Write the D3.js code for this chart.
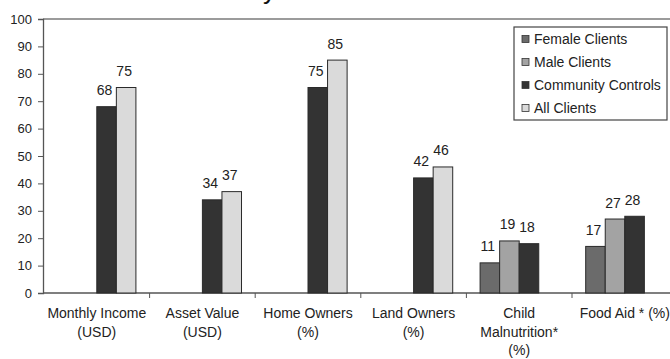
<!DOCTYPE html>
<html>
<head>
<meta charset="utf-8">
<script src="https://cdn.jsdelivr.net/npm/d3@7"></script>
<style>
  body { margin: 0; background: #fff; }
  svg { display: block; font-family: "Liberation Sans", Arial, sans-serif; }
</style>
</head>
<body>
<div id="chart"></div>
<script>
// data
const categories = [
    ["Monthly Income", "(USD)"],
    ["Asset Value", "(USD)"],
    ["Home Owners", "(%)"],
    ["Land Owners", "(%)"],
    ["Child", "Malnutrition*", "(%)"],
    ["Food Aid * (%)"]
];
const seriesNames = ["Female Clients", "Male Clients", "Community Controls", "All Clients"];
const femaleClients = [null, null, null, null, 11, 17];
const maleClients = [null, null, null, null, 19, 27];
const communityControls = [68, 34, 75, 42, 18, 28];
const allClients = [75, 37, 85, 46, null, null];
const yTicks = [0, 10, 20, 30, 40, 50, 60, 70, 80, 90, 100];

const seriesColors = ["#6b6b6b", "#a3a3a3", "#333333", "#dadada"];
const seriesValues = [femaleClients, maleClients, communityControls, allClients];

const width = 670;
const height = 359;
const margin = { left: 43, top: 19, bottom: 66 };

const svg = d3.select("#chart").append("svg")
    .attr("width", width)
    .attr("height", height);

// title, cut off by the top edge (only the descender shows)
svg.append("text")
    .attr("x", 276)
    .attr("y", -0.6)
    .attr("text-anchor", "end")
    .style("font-size", "26px")
    .attr("fill", "#111")
    .text("Outcome Summary");

const x0 = d3.scaleBand()
    .domain(d3.range(categories.length))
    .range([margin.left + 1, margin.left + 1 + 6 * 105.6])
    .padding(0);

const x1 = d3.scaleBand()
    .domain(d3.range(seriesNames.length))
    .range([0, x0.bandwidth()])
    .paddingInner(0)
    .paddingOuter(0.7);

const y = d3.scaleLinear()
    .domain([0, 100])
    .range([height - margin.bottom, margin.top]);

// plot frame top line
svg.append("line")
    .attr("x1", margin.left).attr("x2", width)
    .attr("y1", y(100)).attr("y2", y(100))
    .attr("stroke", "#7a7a7a")
    .attr("stroke-width", 1.5);

// y axis
const yAxis = svg.append("g")
    .attr("transform", `translate(${margin.left},0)`)
    .call(d3.axisLeft(y).tickValues(yTicks).tickSize(5).tickPadding(6));
yAxis.select(".domain").attr("stroke", "#555").attr("stroke-width", 1.3);
yAxis.selectAll(".tick line").attr("stroke", "#555");
yAxis.selectAll("text")
    .style("font-size", "13px")
    .attr("fill", "#222")
    .attr("font-family", "Liberation Sans, Arial, sans-serif");

// x axis: line with ticks at category boundaries
const xAxis = svg.append("g");
xAxis.append("line")
    .attr("x1", margin.left).attr("x2", width)
    .attr("y1", y(0)).attr("y2", y(0))
    .attr("stroke", "#555")
    .attr("stroke-width", 1.3);
xAxis.selectAll("line.tick")
    .data(d3.range(1, categories.length))
    .enter()
    .append("line")
    .attr("class", "tick")
    .attr("x1", d => x0(d)).attr("x2", d => x0(d))
    .attr("y1", y(0)).attr("y2", y(0) + 5)
    .attr("stroke", "#555");

xAxis.selectAll("text.cat")
    .data(categories)
    .enter()
    .append("text")
    .attr("class", "cat")
    .attr("text-anchor", "middle")
    .style("font-size", "14px")
    .attr("fill", "#222")
    .each(function(lines, i) {
        const t = d3.select(this);
        lines.forEach((line, j) => {
            t.append("tspan")
                .attr("x", x0(i) + x0.bandwidth() / 2)
                .attr("y", y(0) + 25 + j * 18.5)
                .text(line);
        });
    });

// bars
const barData = [];
seriesValues.forEach((values, s) => {
    values.forEach((v, i) => {
        if (v !== null) barData.push({ s, i, v });
    });
});

svg.append("g")
    .selectAll("rect")
    .data(barData)
    .enter()
    .append("rect")
    .attr("x", d => x0(d.i) + x1(d.s))
    .attr("y", d => y(d.v))
    .attr("width", x1.bandwidth())
    .attr("height", d => y(0) - y(d.v))
    .attr("fill", d => seriesColors[d.s])
    .attr("stroke", "#2a2a2a")
    .attr("stroke-width", 1);

svg.append("g")
    .selectAll("text")
    .data(barData)
    .enter()
    .append("text")
    .attr("x", d => x0(d.i) + x1(d.s) + x1.bandwidth() / 2 - 2)
    .attr("y", d => y(d.v) - 11.5)
    .attr("text-anchor", "middle")
    .style("font-size", "14px")
    .attr("fill", "#222")
    .text(d => d.v);

// legend
const legend = svg.append("g").attr("transform", "translate(514,27)");
legend.append("rect")
    .attr("width", 153)
    .attr("height", 93)
    .attr("fill", "#fff")
    .attr("stroke", "#444")
    .attr("stroke-width", 1.2);

const items = legend.selectAll("g.item")
    .data(seriesNames)
    .enter()
    .append("g")
    .attr("class", "item")
    .attr("transform", (d, i) => `translate(8,${12 + i * 23})`);

items.append("rect")
    .attr("x", 0)
    .attr("y", -3.5)
    .attr("width", 7)
    .attr("height", 7)
    .attr("fill", (d, i) => seriesColors[i])
    .attr("stroke", "#333")
    .attr("stroke-width", 0.8);

items.append("text")
    .attr("x", 12)
    .attr("y", 5)
    .style("font-size", "14px")
    .attr("fill", "#222")
    .text(d => d);
</script>
</body>
</html>
